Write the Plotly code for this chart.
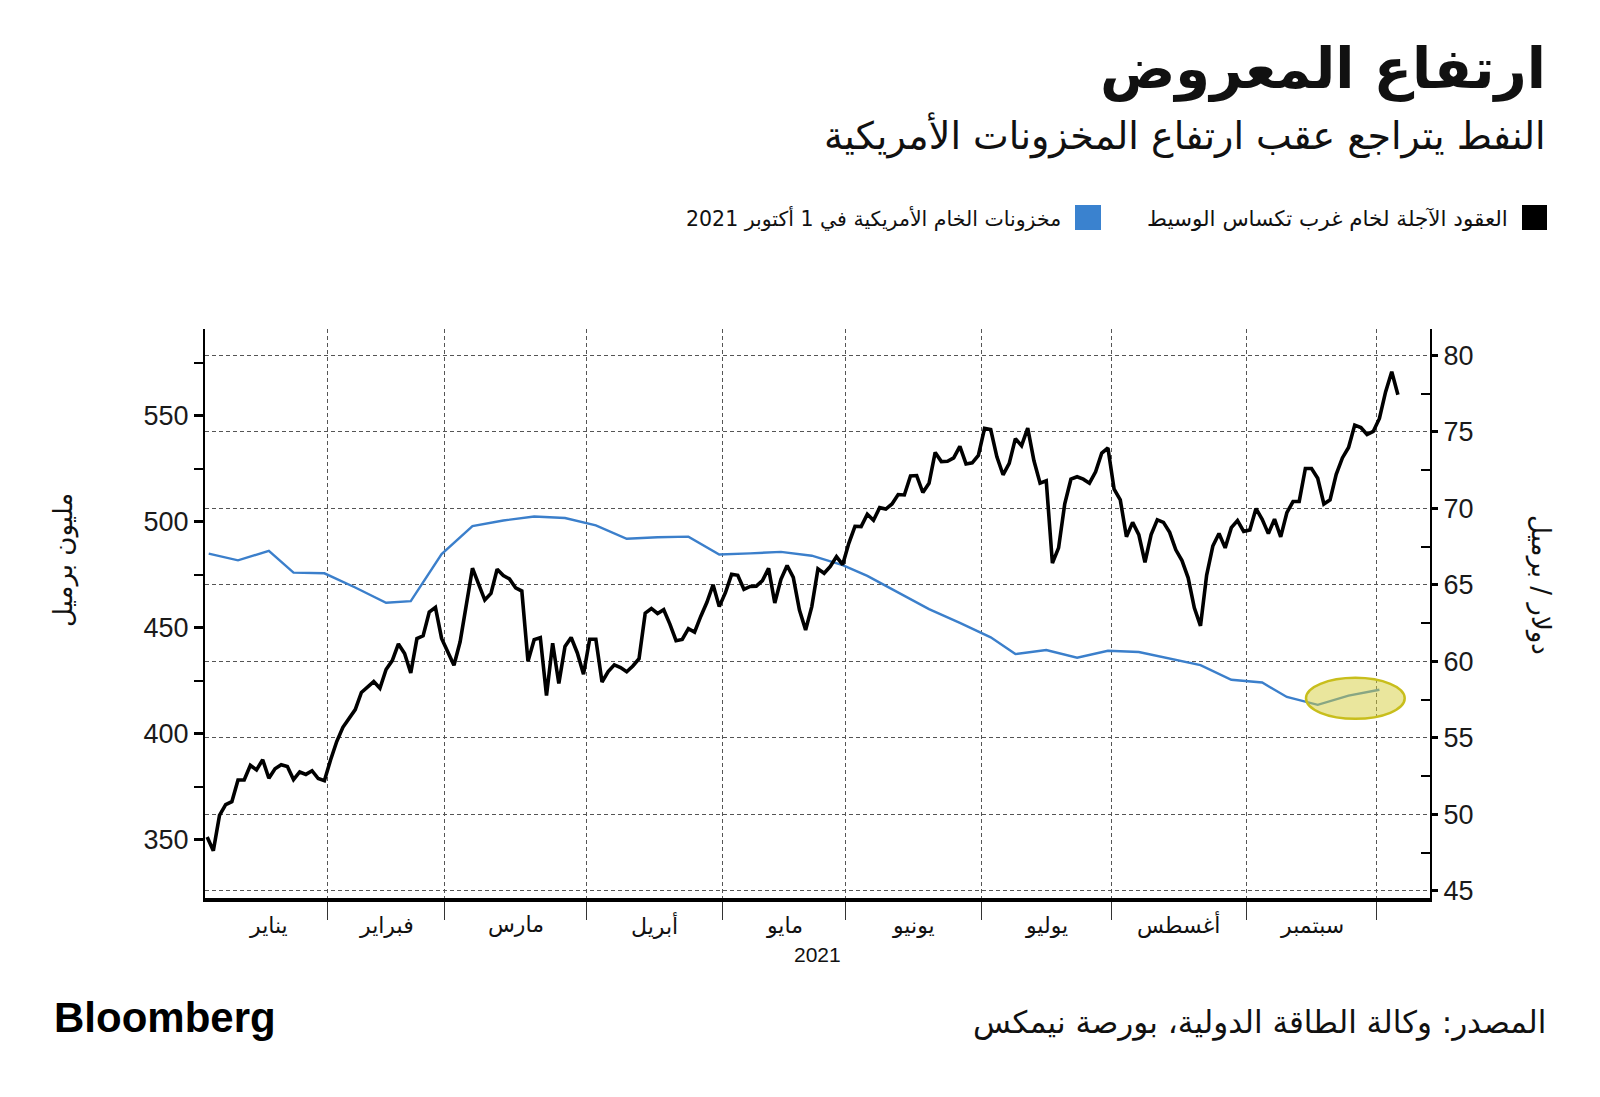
import bisect
from datetime import date

import plotly.graph_objects as go

# ---------------- data ----------------
wti_dates = [
    "2020-12-31",
    "2021-01-04", "2021-01-05", "2021-01-06", "2021-01-07", "2021-01-08", "2021-01-11", "2021-01-12",
    "2021-01-13", "2021-01-14", "2021-01-15", "2021-01-19", "2021-01-20", "2021-01-21", "2021-01-22",
    "2021-01-25", "2021-01-26", "2021-01-27", "2021-01-28", "2021-01-29",
    "2021-02-01", "2021-02-02", "2021-02-03", "2021-02-04", "2021-02-05", "2021-02-08", "2021-02-09",
    "2021-02-10", "2021-02-11", "2021-02-12", "2021-02-16", "2021-02-17", "2021-02-18", "2021-02-19",
    "2021-02-22", "2021-02-23", "2021-02-24", "2021-02-25", "2021-02-26",
    "2021-03-01", "2021-03-02", "2021-03-03", "2021-03-04", "2021-03-05", "2021-03-08", "2021-03-09",
    "2021-03-10", "2021-03-11", "2021-03-12", "2021-03-15", "2021-03-16", "2021-03-17", "2021-03-18",
    "2021-03-19", "2021-03-22", "2021-03-23", "2021-03-24", "2021-03-25", "2021-03-26", "2021-03-29",
    "2021-03-30", "2021-03-31",
    "2021-04-01", "2021-04-02", "2021-04-05", "2021-04-06", "2021-04-07", "2021-04-08", "2021-04-09",
    "2021-04-12", "2021-04-13", "2021-04-14", "2021-04-15", "2021-04-16", "2021-04-19", "2021-04-20",
    "2021-04-21", "2021-04-22", "2021-04-23", "2021-04-26", "2021-04-27", "2021-04-28", "2021-04-29",
    "2021-04-30",
    "2021-05-03", "2021-05-04", "2021-05-05", "2021-05-06", "2021-05-07", "2021-05-10", "2021-05-11",
    "2021-05-12", "2021-05-13", "2021-05-14", "2021-05-17", "2021-05-18", "2021-05-19", "2021-05-20",
    "2021-05-21", "2021-05-24", "2021-05-25", "2021-05-26", "2021-05-27", "2021-05-28",
    "2021-06-01", "2021-06-02", "2021-06-03", "2021-06-04", "2021-06-07", "2021-06-08", "2021-06-09",
    "2021-06-10", "2021-06-11", "2021-06-14", "2021-06-15", "2021-06-16", "2021-06-17", "2021-06-18",
    "2021-06-21", "2021-06-22", "2021-06-23", "2021-06-24", "2021-06-25", "2021-06-28", "2021-06-29",
    "2021-06-30",
    "2021-07-01", "2021-07-02", "2021-07-06", "2021-07-07", "2021-07-08", "2021-07-09", "2021-07-12",
    "2021-07-13", "2021-07-14", "2021-07-15", "2021-07-16", "2021-07-19", "2021-07-20", "2021-07-21",
    "2021-07-22", "2021-07-23", "2021-07-26", "2021-07-27", "2021-07-28", "2021-07-29", "2021-07-30",
    "2021-08-02", "2021-08-03", "2021-08-04", "2021-08-05", "2021-08-06", "2021-08-09", "2021-08-10",
    "2021-08-11", "2021-08-12", "2021-08-13", "2021-08-16", "2021-08-17", "2021-08-18", "2021-08-19",
    "2021-08-20", "2021-08-23", "2021-08-24", "2021-08-25", "2021-08-26", "2021-08-27", "2021-08-30",
    "2021-08-31",
    "2021-09-01", "2021-09-02", "2021-09-03", "2021-09-07", "2021-09-08", "2021-09-09", "2021-09-10",
    "2021-09-13", "2021-09-14", "2021-09-15", "2021-09-16", "2021-09-17", "2021-09-20", "2021-09-21",
    "2021-09-22", "2021-09-23", "2021-09-24", "2021-09-27", "2021-09-28", "2021-09-29", "2021-09-30",
    "2021-10-01", "2021-10-04", "2021-10-05", "2021-10-06",
]

wti_prices = [
    48.52,
    47.62, 49.93, 50.63, 50.83, 52.24, 52.25, 53.21, 52.91, 53.57, 52.36, 52.98, 53.24, 53.13, 52.27,
    52.77, 52.61, 52.85, 52.34, 52.20,
    53.55, 54.76, 55.69, 56.23, 56.85, 57.97, 58.36, 58.68, 58.24, 59.47, 60.05, 61.14, 60.52, 59.24,
    61.49, 61.67, 63.22, 63.53, 61.50,
    60.64, 59.75, 61.28, 63.83, 66.09, 65.05, 64.01, 64.44, 66.02, 65.61, 65.39, 64.80, 64.60, 60.00,
    61.42, 61.55, 57.76, 61.18, 58.56, 60.97, 61.56, 60.55, 59.16,
    61.45, 61.45, 58.65, 59.33, 59.77, 59.60, 59.32, 59.70, 60.18, 63.15, 63.46, 63.13, 63.38, 62.44,
    61.35, 61.43, 62.14, 61.91, 62.94, 63.86, 65.01, 63.58,
    64.49, 65.69, 65.63, 64.71, 64.90, 64.92, 65.28, 66.08, 63.82, 65.37, 66.27, 65.49, 63.36, 62.05,
    63.58, 66.05, 65.76, 66.21, 66.85, 66.32,
    67.72, 68.83, 68.81, 69.62, 69.23, 70.05, 69.96, 70.29, 70.91, 70.88, 72.12, 72.15, 71.04, 71.64,
    73.66, 73.06, 73.08, 73.30, 74.05, 72.91, 72.98, 73.47,
    75.23, 75.16, 73.37, 72.20, 72.94, 74.56, 74.10, 75.25, 73.13, 71.65, 71.81, 66.42, 67.42, 70.30,
    71.91, 72.07, 71.91, 71.65, 72.39, 73.62, 73.95,
    71.26, 70.56, 68.15, 69.09, 68.28, 66.48, 68.29, 69.25, 69.09, 68.44, 67.29, 66.59, 65.46, 63.50,
    62.32, 65.64, 67.54, 68.36, 67.42, 68.74, 69.21, 68.50,
    68.59, 69.99, 69.29, 68.35, 69.30, 68.14, 69.72, 70.45, 70.46, 72.61, 72.61, 71.97, 70.29, 70.56,
    72.23, 73.30, 73.98, 75.45, 75.29, 74.83, 75.03,
    75.88, 77.62, 78.93, 77.43,
]

stock_dates = [
    "2021-01-01", "2021-01-08", "2021-01-15", "2021-01-22", "2021-01-29",
    "2021-02-05", "2021-02-12", "2021-02-19", "2021-02-26",
    "2021-03-05", "2021-03-12", "2021-03-19", "2021-03-26",
    "2021-04-02", "2021-04-09", "2021-04-16", "2021-04-23", "2021-04-30",
    "2021-05-07", "2021-05-14", "2021-05-21", "2021-05-28",
    "2021-06-04", "2021-06-11", "2021-06-18", "2021-06-25",
    "2021-07-02", "2021-07-09", "2021-07-16", "2021-07-23", "2021-07-30",
    "2021-08-06", "2021-08-13", "2021-08-20", "2021-08-27",
    "2021-09-03", "2021-09-10", "2021-09-17", "2021-09-24", "2021-10-01",
]

stock_values = [
    485.0, 481.8, 486.3, 476.0, 475.7,
    469.0, 461.8, 462.6, 484.8,
    498.0, 500.6, 502.5, 501.8,
    498.3, 492.0, 492.7, 493.0, 484.6,
    485.1, 485.8, 484.0, 479.6,
    474.5, 466.7, 458.8, 452.3,
    445.5, 437.6, 439.5, 435.9, 439.2,
    438.6, 435.6, 432.4, 425.5,
    424.2, 417.4, 413.7, 418.0, 420.8,
]

month_labels = ["يناير", "فبراير", "مارس", "أبريل", "مايو", "يونيو", "يوليو", "أغسطس", "سبتمبر"]
year_label = "2021"
left_ticks = [350, 400, 450, 500, 550]
left_minor = [375, 425, 475, 525, 575]
right_ticks = [45, 50, 55, 60, 65, 70, 75, 80]
right_minor = [47.5, 52.5, 57.5, 62.5, 67.5, 72.5, 77.5]
highlight_from = "2021-09-17"   # inventory rebound circled on the chart

title = "ارتفاع المعروض"
subtitle = "النفط يتراجع عقب ارتفاع المخزونات الأمريكية"
legend_wti = "العقود الآجلة لخام غرب تكساس الوسيط"
legend_stock = "مخزونات الخام الأمريكية في 1 أكتوبر 2021"
left_title = "مليون برميل"
right_title = "دولار / برميل"
source = "المصدر: وكالة الطاقة الدولية، بورصة نيمكس"
brand = "Bloomberg"

# ---------------- helpers ----------------
W, H = 1600, 1097
OFF = 8  # page body margin in the browser
PL, PR, PT, PB = 205, 1430, 329, 898   # target plot box on the page
BLUE = "#3b7fcb"
GRID = "#555555"
AR_FONT = "DejaVu Sans"
NUM_FONT = "Liberation Sans, Arial, sans-serif"

ML, MT = PL - OFF, PT - OFF
MR, MB = W - (PR - OFF), H - (PB - OFF)


def pp(x, y):
    """page pixel -> paper coordinates (for layout texts only)"""
    return (x - PL) / (PR - PL), (PB - y) / (PB - PT)


td = [date.fromisoformat(s) for s in wti_dates]


def date_to_pos(s):
    d = date.fromisoformat(s)
    i = bisect.bisect_left(td, d)
    if i < len(td) and td[i] == d:
        return float(i)
    if i == 0:
        return 0.0
    if i >= len(td):
        return float(len(td) - 1)
    a, b = td[i - 1], td[i]
    return (i - 1) + (d - a).days / (b - a).days


x_wti = list(range(len(td)))
x_stock = [date_to_pos(s) for s in stock_dates]

first_last = {}
for i, d in enumerate(td):
    k = (d.year, d.month)
    if k not in first_last:
        first_last[k] = [i, i]
    first_last[k][1] = i

label_keys = [(2021, m) for m in range(1, 10)]
centers = [(first_last[k][0] + first_last[k][1]) / 2 for k in label_keys]
boundaries = [(first_last[(2021, m)][1] + first_last[(2021, m + 1)][0]) / 2 for m in range(1, 10)]

# ---------------- figure ----------------
fig = go.Figure()
fig.add_trace(go.Scatter(x=x_stock, y=stock_values, yaxis="y", mode="lines",
                         line=dict(color=BLUE, width=2.4), hoverinfo="skip", showlegend=False))
fig.add_trace(go.Scatter(x=x_wti, y=wti_prices, yaxis="y2", mode="lines",
                         line=dict(color="black", width=3.6), hoverinfo="skip", showlegend=False))

# highlight ellipse around the last inventory readings
hi = stock_dates.index(highlight_from)
hx = x_stock[hi:]
hy = stock_values[hi:]
fig.add_shape(type="circle", xref="x", yref="y",
              x0=min(hx) - 1.9, x1=max(hx) + 4.1, y0=min(hy) - 6.6, y1=max(hy) + 5.6,
              fillcolor="rgba(214,206,60,0.5)", line=dict(color="#c8be1c", width=2.5), layer="above")

fig.update_layout(
    width=W, height=H,
    margin=dict(l=ML, r=MR, t=MT, b=MB, pad=0),
    paper_bgcolor="white", plot_bgcolor="white",
    showlegend=False,
    xaxis=dict(range=[-0.35, 198.2], tickmode="array", tickvals=boundaries, ticktext=[""] * len(boundaries),
               ticks="outside", ticklen=18, tickwidth=1, tickcolor="#333",
               showgrid=True, gridcolor=GRID, gridwidth=1, griddash="4px,3px",
               showline=True, linecolor="black", linewidth=3.5, zeroline=False, fixedrange=True),
    yaxis=dict(range=[322.6, 590.9], side="left", tickmode="array", tickvals=left_ticks,
               ticks="outside", ticklen=9, tickwidth=2.5, tickcolor="black",
               tickfont=dict(family=NUM_FONT, size=27, color="#1a1a1a"),
               showgrid=False, zeroline=False, showline=True, linecolor="black", linewidth=2,
               minor=dict(tickmode="array", tickvals=left_minor, ticks="outside", ticklen=9,
                          tickwidth=1.5, tickcolor="black", showgrid=False)),
    yaxis2=dict(range=[44.53, 81.73], side="right", overlaying="y", anchor="x", tickmode="array",
                tickvals=right_ticks, ticks="outside", ticklen=6, tickwidth=2.5, tickcolor="black",
                tickfont=dict(family=NUM_FONT, size=27, color="#1a1a1a"),
                showgrid=True, gridcolor=GRID, gridwidth=1, griddash="4px,3px",
                zeroline=False, showline=True, linecolor="black", linewidth=2,
                minor=dict(tickmode="array", tickvals=right_minor, ticks="inside", ticklen=9,
                           tickwidth=1.5, tickcolor="black", showgrid=False)),
)

ann = []


def text(s, x, y, size, xanchor="center", yanchor="middle", angle=0, family=AR_FONT, color="#111", bold=False):
    px_, py_ = pp(x, y)
    ann.append(dict(text=f"<b>{s}</b>" if bold else s, x=px_, y=py_, xref="paper", yref="paper",
                    xanchor=xanchor, yanchor=yanchor, textangle=angle, showarrow=False,
                    font=dict(family=family, size=size, color=color)))


text(title, 1548, 69, 56, xanchor="right", bold=True)
text(subtitle, 1548, 135, 38, xanchor="right")
text(legend_wti, 1510, 218, 21.5, xanchor="right")
text(legend_stock, 1063, 218, 20.5, xanchor="right")
text(left_title, 63, 560, 26, angle=-90)
text(right_title, 1541, 585, 26, angle=90)
text(source, 1548, 1022, 31, xanchor="right")
text(brand, 52, 1017, 42, xanchor="left", family="Liberation Sans, Arial, sans-serif", color="#000", bold=True)

# month labels on the data axis
for c, lab in zip(centers, month_labels):
    ann.append(dict(text=lab, x=c, y=pp(0, 925)[1], xref="x", yref="paper", xanchor="center",
                    yanchor="middle", showarrow=False, font=dict(family=AR_FONT, size=22, color="#111")))
ann.append(dict(text=year_label, x=0.5, y=pp(0, 954)[1], xref="paper", yref="paper", xanchor="center",
                yanchor="middle", showarrow=False, font=dict(family=NUM_FONT, size=21, color="#111")))

fig.update_layout(annotations=ann)

# legend swatches
for (x0, x1), col in [((1522, 1547), "black"), ((1075, 1101), "#3a82cf")]:
    a0, b0 = pp(x0, 230)
    a1, b1 = pp(x1, 205)
    fig.add_shape(type="rect", xref="paper", yref="paper", x0=a0, x1=a1, y0=b0, y1=b1,
                  fillcolor=col, line=dict(width=0))

fig.write_html("out.html")
